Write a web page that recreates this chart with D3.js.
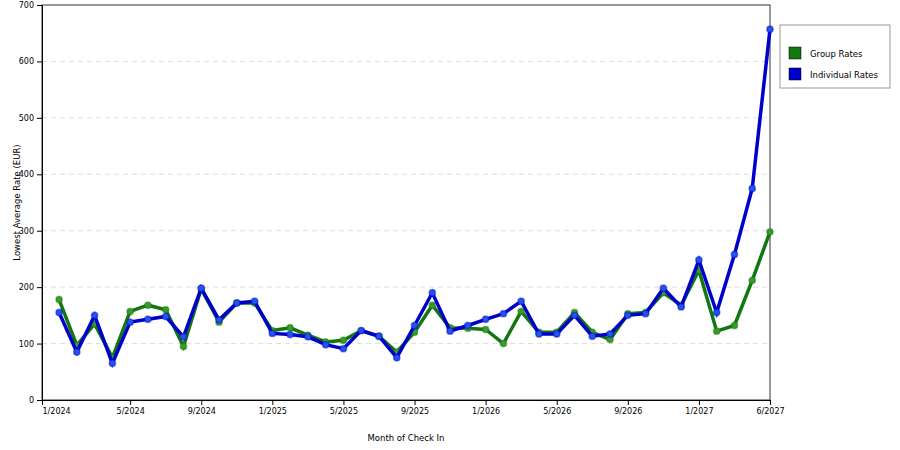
<!DOCTYPE html>
<html><head><meta charset="utf-8">
<script src="https://cdn.jsdelivr.net/npm/d3@7.9.0/dist/d3.min.js"></script>
<style>body{margin:0;background:#fff}text{font-family:"DejaVu Sans",sans-serif}</style>
</head><body><svg id="chart"></svg>
<script>
const months = ['1/2024','2/2024','3/2024','4/2024','5/2024','6/2024','7/2024','8/2024','9/2024','10/2024','11/2024','12/2024',
  '1/2025','2/2025','3/2025','4/2025','5/2025','6/2025','7/2025','8/2025','9/2025','10/2025','11/2025','12/2025',
  '1/2026','2/2026','3/2026','4/2026','5/2026','6/2026','7/2026','8/2026','9/2026','10/2026','11/2026','12/2026',
  '1/2027','2/2027','3/2027','4/2027','5/2027'];
const groupRates = [178,97,135,75,157,168,160,95,197,138,172,172,123,128,115,103,106,123,113,85,120,168,128,127,125,100,157,120,120,155,120,107,153,155,190,168,230,122,132,212,298];
const individualRates = [155,85,150,65,138,143,148,112,198,142,172,175,118,116,112,98,91,123,113,75,132,190,122,132,143,153,175,117,117,150,113,117,150,153,198,165,248,155,258,375,657];
const xTickLabels = ['1/2024','5/2024','9/2024','1/2025','5/2025','9/2025','1/2026','5/2026','9/2026','1/2027','6/2027'];
const xTickMonths = [null,'5/2024','9/2024','1/2025','5/2025','9/2025','1/2026','5/2026','9/2026','1/2027','5/2027'];
const yTicks = [0,100,200,300,400,500,600,700];

const width = 900, height = 450;
const margin = {top: 5, right: 130, bottom: 50, left: 42};
const svg = d3.select('#chart').attr('width', width).attr('height', height);

const x = d3.scaleLinear().domain([-0.96, months.length - 1]).range([margin.left, width - margin.right]);
const y = d3.scaleLinear().domain([0, 700]).range([height - margin.bottom, margin.top]);
const tickPos = xTickMonths.map(m => m === null ? -0.96 : months.indexOf(m));

// grid
svg.append('g').selectAll('line').data(yTicks.slice(1, -1)).join('line')
  .attr('x1', margin.left).attr('x2', width - margin.right)
  .attr('y1', d => y(d)).attr('y2', d => y(d))
  .attr('stroke', '#ddd').attr('stroke-dasharray', '5,4');

svg.append('rect').attr('x', margin.left).attr('y', margin.top)
  .attr('width', width - margin.right - margin.left).attr('height', height - margin.bottom - margin.top)
  .attr('fill', 'none').attr('stroke', '#333');

svg.append('g').attr('transform', `translate(0,${height - margin.bottom})`)
  .call(d3.axisBottom(x).tickValues(tickPos).tickFormat((d, i) => xTickLabels[i]).tickSize(5))
  .call(g => g.selectAll('text').attr('font-size', 8).attr('fill', '#000'))
  .call(g => g.select('.tick text').attr('text-anchor', 'start'));
svg.append('g').attr('transform', `translate(${margin.left},0)`)
  .call(d3.axisLeft(y).tickValues(yTicks).tickSize(5))
  .call(g => g.selectAll('text').attr('font-size', 8).attr('fill', '#000'));

svg.append('text').attr('x', (margin.left + width - margin.right) / 2).attr('y', 441)
  .attr('text-anchor', 'middle').attr('font-size', 8.5).text('Month of Check In');
svg.append('text').attr('transform', `translate(20,${(margin.top + height - margin.bottom) / 2}) rotate(-90)`)
  .attr('text-anchor', 'middle').attr('font-size', 8.5).text('Lowest Average Rate (EUR)');

const series = [
  {name: 'Group Rates', values: groupRates, color: '#117711', dot: '#3a9a2a'},
  {name: 'Individual Rates', values: individualRates, color: '#0000cc', dot: '#2255ee'}
];
const line = d3.line().x((d, i) => x(i)).y(d => y(d));
series.forEach(s => {
  svg.append('path').datum(s.values).attr('d', line)
    .attr('fill', 'none').attr('stroke', s.color).attr('stroke-width', 3.5);
  svg.append('g').selectAll('circle').data(s.values).join('circle')
    .attr('cx', (d, i) => x(i)).attr('cy', d => y(d)).attr('r', 3.2)
    .attr('fill', s.dot).attr('stroke', s.color).attr('stroke-opacity', 0.4).attr('stroke-width', 1.5);
});

// legend
const lg = svg.append('g').attr('transform', 'translate(780,25)');
lg.append('rect').attr('width', 110).attr('height', 63).attr('fill', '#fff').attr('stroke', '#999');
series.forEach((s, i) => {
  lg.append('rect').attr('x', 9).attr('y', 22 + i * 21).attr('width', 12).attr('height', 12)
    .attr('fill', s.color).attr('stroke', '#000').attr('stroke-width', 0.5);
  lg.append('text').attr('x', 30).attr('y', 32 + i * 21).attr('font-size', 8.5).text(s.name);
});
</script></body></html>
